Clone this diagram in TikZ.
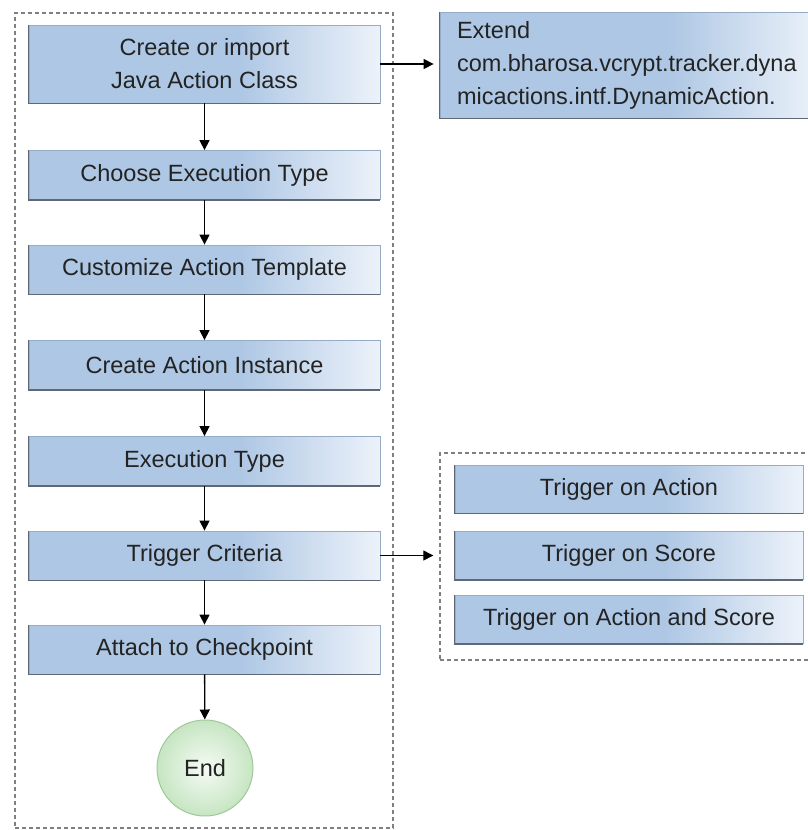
\documentclass[tikz,border=0pt]{standalone}
\usepackage{fontspec}
\setmainfont{Liberation Sans}
\usetikzlibrary{arrows.meta}
\definecolor{boxblue}{RGB}{174,199,228}
\definecolor{boxlight}{RGB}{236,242,250}
\definecolor{boxedge}{RGB}{150,172,198}
\definecolor{boxdark}{RGB}{95,105,118}
\definecolor{txt}{RGB}{35,35,35}
\definecolor{frame}{RGB}{128,128,128}
\definecolor{endin}{RGB}{246,251,245}
\definecolor{endout}{RGB}{198,229,194}
\definecolor{endedge}{RGB}{160,200,155}
\pgfdeclarehorizontalshading{boxshade}{100bp}{color(0bp)=(boxblue); color(25bp)=(boxblue); color(55bp)=(boxblue); color(75bp)=(boxlight); color(100bp)=(boxlight)}
\tikzset{
  flowbox/.style={rectangle, shading=boxshade, draw=boxedge, line width=0.8pt,
    minimum width=351pt, minimum height=49pt, inner sep=0pt, text=txt,
    font=\fontsize{23.5}{33}\selectfont, align=center},
  trigbox/.style={flowbox, minimum width=348pt, minimum height=48pt},
  groupbox/.style={rectangle, draw=frame, line width=1.4pt, dash pattern=on 4pt off 3pt, inner sep=0pt},
  bevel/.style={draw=boxdark, line width=1.6pt},
  conn/.style={draw=black, line width=1.3pt, -{Triangle[length=10pt,width=10pt]}},
  endnode/.style={circle, minimum size=96pt, inner sep=0pt, shading=radial, inner color=endin, outer color=endout, draw=endedge, line width=1pt, text=txt, font=\fontsize{23.5}{33}\selectfont}
}
\begin{document}
\begin{tikzpicture}[x=1pt,y=-1pt]
\useasboundingbox (0,0) rectangle (807,830);
% groups
\node[groupbox, minimum width=378pt, minimum height=815pt] (lgrp) at (204,420.5) {};
\node[groupbox, minimum width=380pt, minimum height=207pt] (rgrp) at (630,556.5) {};
% left flow
\node[flowbox, minimum height=78pt] (b1) at (204.5,64) {Create or import\\Java Action Class};
\node[flowbox] (b2) at (204.5,175) {Choose Execution Type};
\node[flowbox] (b3) at (204.5,269.5) {Customize Action Template};
\node[flowbox] (b4) at (204.5,365) {Create Action Instance};
\node[flowbox] (b5) at (204.5,461) {Execution Type};
\node[flowbox] (b6) at (204.5,555.5) {Trigger Criteria};
\node[flowbox] (b7) at (204.5,649.5) {Attach to Checkpoint};
\node[endnode] (endc) at (205,768) {End};
% extend box
\node[flowbox, minimum width=380pt, minimum height=106pt, text width=346pt, align=left, inner xsep=17pt] (ext) at (630,65) {Extend\\com.bharosa.vcrypt.tracker.dyna\\micactions.intf.DynamicAction.};
% triggers
\node[trigbox] (t1) at (629,489) {Trigger on Action};
\node[trigbox] (t2) at (629,555.5) {Trigger on Score};
\node[trigbox] (t3) at (629,619.5) {Trigger on Action and Score};
% bevel edges
\foreach \n in {b1,b2,b3,b4,b5,b6,b7,ext,t1,t2,t3}{
  \draw[bevel] (\n.north west) -- (\n.south west) -- (\n.south east);
}
% connectors
\draw[conn] (b1) -- (b2);
\draw[conn] (b2) -- (b3);
\draw[conn] (b3) -- (b4);
\draw[conn] (b4) -- (b5);
\draw[conn] (b5) -- (b6);
\draw[conn] (b6) -- (b7);
\draw[conn] (b7) -- (endc);
\draw[conn, shorten >=6pt] (b1.east) -- (ext.west |- b1.east);
\draw[conn, shorten >=6pt] (b6.east) -- (rgrp.west |- b6.east);
\end{tikzpicture}
\end{document}
